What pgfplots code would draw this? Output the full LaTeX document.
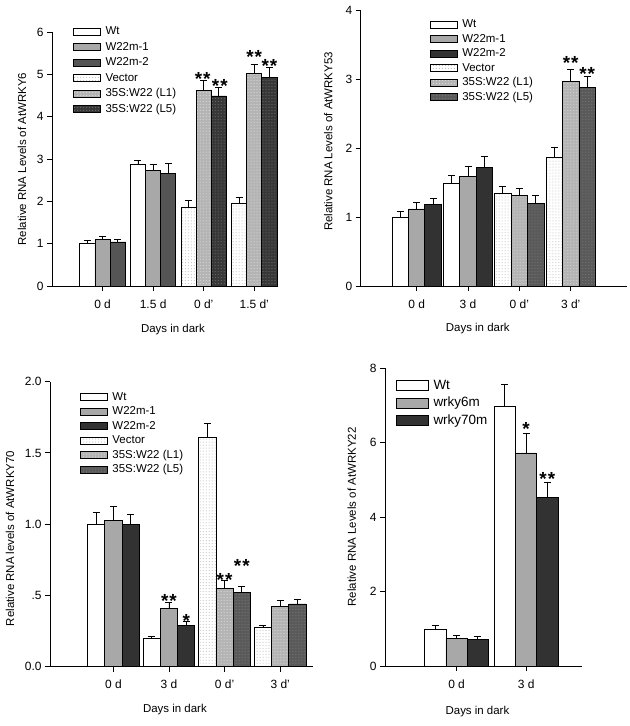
\documentclass[border=0pt]{standalone}
\usepackage{pgfplots}
\pgfplotsset{compat=1.18}
\usepackage{fontspec}
\setmainfont{Liberation Sans}
\usetikzlibrary{patterns}

\definecolor{lgray}{RGB}{168,168,168}
\definecolor{mgray}{RGB}{85,85,85}
\definecolor{dgray}{RGB}{50,50,50}
\definecolor{dotl}{RGB}{180,180,180}
\definecolor{dotm}{RGB}{90,90,90}
\definecolor{dotd}{RGB}{55,55,55}

\tikzset{
  wt/.style={draw=black, line width=0.8bp, fill=white},
  stars/.style={font=\fontsize{19}{19}\selectfont\bfseries, anchor=base, yshift=-11bp, inner sep=0pt},
}
\newcommand{\two}{*\hspace{1bp}*}

\pgfplotsset{
  panel/.style={
    scale only axis, anchor=south west, clip=false,
    axis x line*=bottom, axis y line*=left,
    axis line style={line width=0.9bp},
    tick align=outside, major tick length=5bp,
    tick style={line width=0.9bp, black},
    ybar, bar width=0.3, ymin=0,
    /pgf/number format/assume math mode=true,
    tick label style={font=\fontsize{12}{14}\selectfont},
    xticklabel style={yshift=-5bp},
    label style={font=\fontsize{11.5}{13}\selectfont},
    legend style={draw=none, fill=none, anchor=north west, inner sep=0pt,
      font=\fontsize{11.5}{13}\selectfont, row sep=3.5bp, column sep=4bp,
      nodes={text height=8.5bp, text depth=2.5bp, inner sep=0.5bp}},
    legend cell align=left,
    legend image code/.code={\draw[##1, line width=0.8bp] (0bp,-3.5bp) rectangle (27bp,3.5bp);},
    error bars/y dir=plus, error bars/y explicit,
    error bars/error bar style={line width=0.9bp, black},
    error bars/error mark options={line width=0.9bp, black, mark size=3.5bp, rotate=90},
  },
}

\begin{document}
\begin{tikzpicture}
\fill[white] (0,0) rectangle (630bp,726bp);
\useasboundingbox (0,0) rectangle (630bp,726bp);

% top left: AtWRKY6
\begin{axis}[panel, at={(52bp,440bp)}, width=226bp, height=254bp,
  xmin=0, xmax=4.47, ymax=6, ytick={0,1,...,6},
  xtick={1,2,3,4}, xticklabels={0 d,1.5 d,0 d',1.5 d'},
  xlabel={Days in dark}, ylabel={Relative RNA Levels of AtWRKY6},
  xlabel style={at={(axis description cs:0.535,-0.173)}, anchor=center},
  ylabel style={at={(axis description cs:-0.133,0.5)}, anchor=center},
  legend style={at={(0.093,1.025)}}]
\addplot[wt, bar shift=-0.3] coordinates {(1,1.00) +- (0,0.07) (2,2.87) +- (0,0.10)};
\addplot[draw=black, line width=0.8bp, fill=lgray, bar shift=0] coordinates {(1,1.09) +- (0,0.08) (2,2.72) +- (0,0.15)};
\addplot[draw=black, line width=0.8bp, fill=mgray, bar shift=0.3] coordinates {(1,1.04) +- (0,0.05) (2,2.65) +- (0,0.25)};
\addplot[draw=black, line width=0.8bp, fill=white, postaction={pattern=dots, pattern color=gray!60}, bar shift=-0.3] coordinates {(3,1.85) +- (0,0.18) (4,1.95) +- (0,0.14)};
\addplot[draw=black, line width=0.8bp, fill=dotl, postaction={pattern=dots, pattern color=white!80!gray}, bar shift=0] coordinates {(3,4.61) +- (0,0.24) (4,5.02) +- (0,0.22)};
\addplot[draw=black, line width=0.8bp, fill=dotd, postaction={pattern=dots, pattern color=gray}, bar shift=0.3] coordinates {(3,4.49) +- (0,0.20) (4,4.92) +- (0,0.25)};
\legend{Wt,W22m-1,W22m-2,Vector,35S:W22 (L1),35S:W22 (L5)}
\node[stars] at (axis cs:2.98,5.0) {\two};
\node[stars] at (axis cs:3.32,4.82) {\two};
\node[stars] at (axis cs:4,5.52) {\two};
\node[stars] at (axis cs:4.3,5.31) {\two};
\end{axis}

% top right: AtWRKY53
\begin{axis}[panel, at={(360.7bp,440bp)}, width=266bp, height=275.3bp,
  xmin=-0.09, xmax=5.09, ymax=4, ytick={0,1,...,4}, bar width=0.32,
  xtick={1,2,3,4}, xticklabels={0 d,3 d,0 d',3 d'},
  xlabel={Days in dark}, ylabel={Relative RNA Levels of AtWRKY53},
  xlabel style={at={(axis description cs:0.44,-0.153)}, anchor=center},
  ylabel style={at={(axis description cs:-0.122,0.525)}, anchor=center},
  legend style={at={(0.26,0.972)}, row sep=2.5bp}]
\addplot[wt, bar shift=-0.32] coordinates {(1,1.00) +- (0,0.09) (2,1.49) +- (0,0.11)};
\addplot[draw=black, line width=0.8bp, fill=lgray, bar shift=0] coordinates {(1,1.12) +- (0,0.10) (2,1.59) +- (0,0.14)};
\addplot[draw=black, line width=0.8bp, fill=dgray, bar shift=0.32] coordinates {(1,1.18) +- (0,0.09) (2,1.72) +- (0,0.16)};
\addplot[draw=black, line width=0.8bp, fill=white, postaction={pattern=dots, pattern color=gray!60}, bar shift=-0.32] coordinates {(3,1.34) +- (0,0.10) (4,1.87) +- (0,0.15)};
\addplot[draw=black, line width=0.8bp, fill=dotl, postaction={pattern=dots, pattern color=white!80!gray}, bar shift=0] coordinates {(3,1.31) +- (0,0.11) (4,2.97) +- (0,0.18)};
\addplot[draw=black, line width=0.8bp, fill=dotm, postaction={pattern=dots, pattern color=gray}, bar shift=0.32] coordinates {(3,1.20) +- (0,0.12) (4,2.89) +- (0,0.16)};
\legend{Wt,W22m-1,W22m-2,Vector,35S:W22 (L1),35S:W22 (L5)}
\node[stars] at (axis cs:4,3.31) {\two};
\node[stars] at (axis cs:4.32,3.14) {\two};
\end{axis}

% bottom left: AtWRKY70
\begin{axis}[panel, at={(50bp,59.3bp)}, width=263bp, height=285bp,
  xmin=-0.14, xmax=4.59, ymax=2, bar width=0.31,
  ytick={0,0.5,1,1.5,2}, yticklabels={0.0,.5,1.0,1.5,2.0},
  xtick={1,2,3,4}, xticklabels={0 d,3 d,0 d',3 d'},
  xlabel={Days in dark}, ylabel={Relative RNA levels of AtWRKY70},
  xlabel style={at={(axis description cs:0.475,-0.152)}, anchor=center},
  ylabel style={at={(axis description cs:-0.152,0.45)}, anchor=center},
  legend style={at={(0.114,0.968)}, row sep=2.5bp}]
\addplot[wt, bar shift=-0.31] coordinates {(1,1.00) +- (0,0.08) (2,0.196) +- (0,0.014)};
\addplot[draw=black, line width=0.8bp, fill=lgray, bar shift=0] coordinates {(1,1.025) +- (0,0.10) (2,0.41) +- (0,0.04)};
\addplot[draw=black, line width=0.8bp, fill=dgray, bar shift=0.31] coordinates {(1,1.00) +- (0,0.07) (2,0.29) +- (0,0.025)};
\addplot[draw=black, line width=0.8bp, fill=white, postaction={pattern=dots, pattern color=gray!60}, bar shift=-0.31] coordinates {(3,1.61) +- (0,0.10) (4,0.276) +- (0,0.016)};
\addplot[draw=black, line width=0.8bp, fill=dotl, postaction={pattern=dots, pattern color=white!80!gray}, bar shift=0] coordinates {(3,0.55) +- (0,0.054) (4,0.42) +- (0,0.045)};
\addplot[draw=black, line width=0.8bp, fill=dotm, postaction={pattern=dots, pattern color=gray}, bar shift=0.31] coordinates {(3,0.52) +- (0,0.045) (4,0.44) +- (0,0.035)};
\legend{Wt,W22m-1,W22m-2,Vector,35S:W22 (L1),35S:W22 (L5)}
\node[stars] at (axis cs:2,0.49) {\two};
\node[stars] at (axis cs:2.31,0.35) {*};
\node[stars] at (axis cs:3,0.64) {\two};
\node[stars] at (axis cs:3.31,0.74) {\two};
\end{axis}

% bottom right: AtWRKY22
\begin{axis}[panel, at={(385bp,60bp)}, width=196.7bp, height=298bp,
  xmin=-0.03, xmax=2.8, ymax=8, ytick={0,2,...,8}, bar width=0.305,
  xtick={1,2}, xticklabels={0 d,3 d},
  xlabel={Days in dark}, ylabel={Relative RNA Levels of AtWRKY22},
  xlabel style={at={(axis description cs:0.47,-0.153)}, anchor=center},
  ylabel style={at={(axis description cs:-0.169,0.5)}, anchor=center},
  legend style={at={(0.056,0.965)}, font=\fontsize{13.5}{15}\selectfont, row sep=3.5bp,
    nodes={text height=10bp, text depth=3bp, inner sep=0.5bp}},
  legend image code/.code={\draw[#1, line width=0.8bp] (0bp,-5bp) rectangle (32bp,5bp);}]
\addplot[wt, bar shift=-0.305] coordinates {(1,0.99) +- (0,0.11) (2,6.98) +- (0,0.59)};
\addplot[draw=black, line width=0.8bp, fill=lgray, bar shift=0] coordinates {(1,0.74) +- (0,0.07) (2,5.72) +- (0,0.52)};
\addplot[draw=black, line width=0.8bp, fill=dgray, bar shift=0.305] coordinates {(1,0.72) +- (0,0.08) (2,4.53) +- (0,0.39)};
\legend{Wt,wrky6m,wrky70m}
\node[stars] at (axis cs:2,6.47) {*};
\node[stars] at (axis cs:2.305,5.15) {\two};
\end{axis}
\end{tikzpicture}
\end{document}
